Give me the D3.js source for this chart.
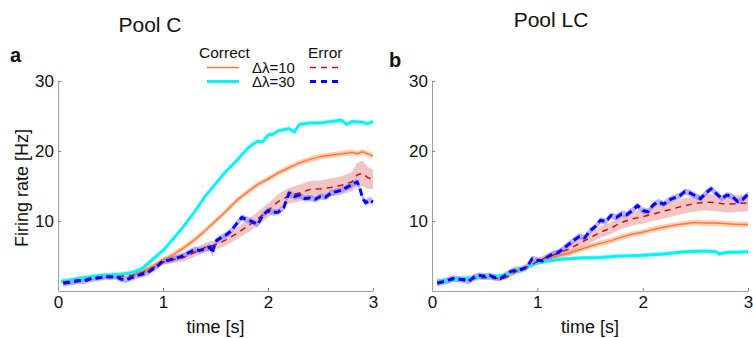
<!DOCTYPE html>
<html>
<head>
<meta charset="utf-8">
<script src="https://cdn.jsdelivr.net/npm/d3@7"></script>
<style>
  body { margin: 0; background: #fff; }
  text { font-family: "Liberation Sans", Arial, Helvetica, sans-serif; fill: #111; }
</style>
</head>
<body>
<svg id="chart" width="753" height="338"></svg>
<script>
// tick labels
const xTicks = [0, 1, 2, 3];
const yTicks = [10, 20, 30];
const panelTitles = ['Pool C', 'Pool LC'];
const panelLetters = ['a', 'b'];

// Pool C: [time s, rate Hz]
const cCorrect10 = [[0.03,1.4],[0.1,1.5],[0.2,1.7],[0.3,1.9],[0.4,2.1],[0.5,2.2],[0.6,2.3],[0.7,2.5],[0.8,2.8],[0.9,3.5],
  [1.0,4.4],[1.1,5.2],[1.2,6.2],[1.3,7.3],[1.4,8.6],[1.5,10.0],[1.6,11.4],[1.7,12.9],[1.8,14.1],[1.9,15.2],
  [2.0,16.0],[2.1,16.9],[2.2,17.6],[2.3,18.3],[2.4,18.8],[2.5,19.2],[2.6,19.4],[2.7,19.6],[2.8,19.8],[2.85,19.6],[2.9,19.9],[3.0,19.3]];
const cCorrect30 = [[0.03,1.4],[0.1,1.5],[0.2,1.8],[0.3,2.0],[0.4,2.2],[0.5,2.3],[0.6,2.4],[0.7,2.6],[0.8,3.2],[0.9,4.5],
  [1.0,5.8],[1.1,7.5],[1.2,9.3],[1.3,11.3],[1.4,13.5],[1.5,15.3],[1.6,17.1],[1.7,18.6],[1.8,20.3],[1.85,20.9],[1.9,21.4],
  [1.95,21.3],[2.0,22.3],[2.05,22.4],[2.1,22.9],[2.2,23.2],[2.25,22.7],[2.3,23.8],[2.4,24.0],[2.5,24.0],[2.6,24.2],
  [2.7,24.4],[2.75,23.8],[2.8,24.2],[2.9,24.1],[2.95,23.9],[3.0,24.2]];
const cError10 = [[0.05,1.3],[0.1,1.4],[0.2,1.6],[0.3,1.8],[0.4,2.0],[0.5,2.1],[0.6,2.1],[0.7,2.2],[0.8,2.6],[0.9,3.3],
  [1.0,4.1],[1.1,4.5],[1.2,4.8],[1.3,5.5],[1.4,6.2],[1.5,6.6],[1.6,7.3],[1.7,8.2],[1.8,9.2],[1.9,10.3],
  [2.0,11.5],[2.1,12.8],[2.2,13.6],[2.3,14.0],[2.4,14.5],[2.5,14.6],[2.6,14.8],[2.7,15.1],[2.8,15.6],[2.85,16.6],
  [2.9,16.8],[2.95,16.2],[3.0,15.9]];
const cError10Sem = [0.3,0.3,0.3,0.3,0.3,0.3,0.3,0.3,0.35,0.4,
  0.4,0.5,0.55,0.6,0.65,0.7,0.75,0.8,0.9,1.0,
  1.0,1.1,1.1,1.2,1.2,1.2,1.3,1.3,1.4,1.7,
  1.8,1.6,1.4];
const cError30 = [[0.05,1.1],[0.1,1.2],[0.15,1.3],[0.2,1.5],[0.25,1.4],[0.3,1.7],[0.35,1.8],[0.4,1.9],[0.45,2.1],[0.5,2.0],
  [0.55,2.1],[0.6,1.7],[0.65,1.6],[0.7,1.9],[0.75,2.2],[0.8,2.4],[0.85,2.6],[0.9,3.1],[0.95,3.6],[1.0,4.3],
  [1.05,4.4],[1.1,4.6],[1.15,4.8],[1.2,5.1],[1.25,5.5],[1.3,5.9],[1.35,5.8],[1.4,6.0],[1.45,6.3],[1.47,5.4],
  [1.5,7.1],[1.55,7.6],[1.6,8.0],[1.65,8.6],[1.7,9.6],[1.75,10.5],[1.8,10.2],[1.85,9.9],[1.9,9.5],[1.95,10.8],
  [2.0,11.5],[2.05,11.2],[2.1,11.3],[2.15,11.9],[2.2,14.0],[2.25,13.5],[2.3,13.7],[2.35,13.2],[2.4,13.3],[2.45,13.1],
  [2.5,13.5],[2.55,13.4],[2.6,14.0],[2.65,14.2],[2.7,14.4],[2.75,14.8],[2.8,15.2],[2.85,15.6],[2.88,14.4],[2.9,13.3],
  [2.93,12.6],[2.97,13.0],[3.0,12.7]];

// Pool LC
const lcCorrect10 = [[0.05,1.4],[0.1,1.4],[0.2,1.6],[0.3,1.8],[0.4,1.9],[0.5,2.0],[0.6,2.0],[0.7,2.1],[0.8,2.8],[0.9,3.4],
  [1.0,4.1],[1.1,4.5],[1.2,5.0],[1.3,5.4],[1.4,5.9],[1.5,6.4],[1.6,6.8],[1.7,7.2],[1.8,7.7],[1.9,8.1],
  [2.0,8.4],[2.1,8.8],[2.2,9.1],[2.3,9.4],[2.4,9.6],[2.5,9.8],[2.6,9.7],[2.7,9.7],[2.8,9.6],[2.9,9.5],[3.0,9.5]];
const lcCorrect30 = [[0.05,1.5],[0.1,1.4],[0.2,1.6],[0.3,1.8],[0.4,1.9],[0.5,2.0],[0.6,2.1],[0.7,2.3],[0.8,2.8],[0.9,3.4],
  [1.0,4.0],[1.1,4.3],[1.2,4.5],[1.4,4.7],[1.6,4.8],[1.8,5.0],[2.0,5.1],[2.2,5.3],[2.4,5.6],[2.6,5.7],
  [2.7,5.6],[2.72,5.3],[2.8,5.5],[3.0,5.6]];
const lcError10 = [[0.05,1.3],[0.1,1.4],[0.2,1.6],[0.3,1.7],[0.4,1.8],[0.5,1.9],[0.6,1.8],[0.7,1.9],[0.8,2.8],[0.9,3.4],
  [1.0,4.2],[1.1,4.9],[1.2,5.4],[1.3,6.0],[1.4,6.8],[1.5,7.6],[1.6,8.4],[1.7,9.0],[1.8,9.8],[1.9,10.3],
  [2.0,10.6],[2.1,11.0],[2.2,11.4],[2.3,11.8],[2.4,12.2],[2.5,12.5],[2.6,12.7],[2.7,12.6],[2.8,12.4],[2.9,12.5],[3.0,12.6]];
const lcError10Sem = [0.3,0.3,0.3,0.3,0.3,0.3,0.3,0.3,0.35,0.4,
  0.45,0.5,0.55,0.6,0.7,0.75,0.8,0.85,0.9,0.95,
  1.0,1.0,1.05,1.1,1.1,1.15,1.2,1.2,1.2,1.2,1.2];
const lcError30 = [[0.05,1.1],[0.1,1.3],[0.15,1.5],[0.2,1.8],[0.25,1.7],[0.3,1.6],[0.35,1.4],[0.4,2.0],[0.45,2.2],[0.5,2.1],
  [0.55,2.2],[0.6,1.9],[0.65,1.8],[0.7,2.3],[0.75,2.8],[0.8,3.0],[0.85,3.1],[0.9,3.4],[0.95,4.6],[1.0,4.4],
  [1.05,4.3],[1.1,4.9],[1.15,5.3],[1.2,5.5],[1.25,6.1],[1.3,6.7],[1.35,7.3],[1.4,7.8],[1.45,7.6],[1.5,8.6],
  [1.55,9.2],[1.6,10.1],[1.65,9.9],[1.7,10.8],[1.75,10.5],[1.8,11.0],[1.85,10.9],[1.9,11.5],[1.95,12.2],[2.0,11.5],
  [2.05,11.3],[2.1,12.3],[2.15,12.7],[2.2,12.4],[2.25,13.0],[2.3,13.3],[2.35,13.6],[2.4,14.2],[2.45,14.0],[2.5,13.6],
  [2.55,13.2],[2.6,14.0],[2.65,14.6],[2.7,13.9],[2.75,13.2],[2.8,13.7],[2.85,13.5],[2.9,12.8],[2.95,13.1],[3.0,13.8]];

// constant band half-widths (Hz) read from the shaded areas
const semCorrect10 = 0.4, semCorrect30 = 0.3, semError30 = 0.45;

const svg = d3.select('#chart');
const plotTop = 81, plotBottom = 291;

const styles = {
  c10: { color: '#ff7a3c', band: '#ffcdb0', width: 1.5, dash: null },
  c30: { color: '#00f5f5', band: '#a8ffff', width: 3, dash: null },
  e10: { color: '#cc1010', band: 'rgba(230,140,140,0.5)', width: 1.5, dash: '6,5' },
  e30: { color: '#0000ff', band: 'rgba(120,120,255,0.55)', width: 3, dash: '7,4' }
};

const panels = [
  { left: 58, right: 373, titleX: 150, titleY: 32, letterX: 10, letterY: 62,
    series: { c10: [cCorrect10, semCorrect10], c30: [cCorrect30, semCorrect30], e10: [cError10, cError10Sem], e30: [cError30, semError30] } },
  { left: 432, right: 748, titleX: 551, titleY: 27, letterX: 389, letterY: 67,
    series: { c10: [lcCorrect10, semCorrect10], c30: [lcCorrect30, semCorrect30], e10: [lcError10, lcError10Sem], e30: [lcError30, semError30] } }
];

panels.forEach((p, pi) => {
  const x = d3.scaleLinear().domain([0, 3]).range([p.left, p.right]);
  const y = d3.scaleLinear().domain([0, 30]).range([plotBottom, plotTop]);
  const semAt = (sem, i) => Array.isArray(sem) ? sem[i] : sem;

  const g = svg.append('g');
  const order = ['c10', 'e10', 'c30', 'e30'];

  // shaded bands
  order.forEach(k => {
    const [data, sem] = p.series[k];
    const area = d3.area()
      .x(d => x(d[0]))
      .y0((d, i) => y(d[1] - semAt(sem, i)))
      .y1((d, i) => y(d[1] + semAt(sem, i)));
    g.append('path').datum(data)
      .attr('fill', styles[k].band)
      .attr('d', area);
  });

  // mean lines
  const line = d3.line().x(d => x(d[0])).y(d => y(d[1]));
  ['c10', 'c30', 'e10', 'e30'].forEach(k => {
    const s = styles[k];
    g.append('path').datum(p.series[k][0])
      .attr('fill', 'none')
      .attr('stroke', s.color)
      .attr('stroke-width', s.width)
      .attr('stroke-dasharray', s.dash)
      .attr('stroke-linejoin', 'round')
      .attr('d', line);
  });

  // axes
  const xAxis = svg.append('g')
    .attr('transform', `translate(0,${plotBottom})`)
    .call(d3.axisBottom(x).tickValues(xTicks).tickFormat(d3.format('d'))
      .tickSizeInner(-3).tickSizeOuter(0).tickPadding(5));
  const yAxis = svg.append('g')
    .attr('transform', `translate(${p.left},0)`)
    .call(d3.axisLeft(y).tickValues(yTicks).tickFormat(d3.format('d'))
      .tickSizeInner(-3).tickSizeOuter(0).tickPadding(4));
  [xAxis, yAxis].forEach(a => {
    a.select('.domain').attr('stroke', '#a0a0a0');
    a.selectAll('.tick line').attr('stroke', '#808080');
    a.selectAll('.tick text').attr('font-size', 17).attr('fill', '#111')
      .style('font-family', '"Liberation Sans", Arial, sans-serif');
  });

  svg.append('text')
    .attr('x', (p.left + p.right) / 2).attr('y', 333)
    .attr('text-anchor', 'middle').attr('font-size', 18)
    .text('time [s]');

  svg.append('text')
    .attr('x', p.titleX).attr('y', p.titleY)
    .attr('text-anchor', 'middle').attr('font-size', 21)
    .text(panelTitles[pi]);

  svg.append('text')
    .attr('x', p.letterX).attr('y', p.letterY)
    .attr('font-size', 20).attr('font-weight', 'bold')
    .text(panelLetters[pi]);
});

svg.append('text')
  .attr('transform', 'translate(28,188) rotate(-90)')
  .attr('text-anchor', 'middle').attr('font-size', 18)
  .text('Firing rate [Hz]');

// legend
const legend = svg.append('g');
legend.append('text').attr('x', 199).attr('y', 58).attr('font-size', 15.5).text('Correct');
legend.append('text').attr('x', 308).attr('y', 58).attr('font-size', 15.5).text('Error');
const legendRows = [
  { label: 'Δλ=10', correct: 'c10', error: 'e10', y: 67.5 },
  { label: 'Δλ=30', correct: 'c30', error: 'e30', y: 81.5 }
];
legendRows.forEach(r => {
  const c = styles[r.correct], e = styles[r.error];
  legend.append('line').attr('x1', 207).attr('x2', 239).attr('y1', r.y).attr('y2', r.y)
    .attr('stroke', c.color).attr('stroke-width', c.width);
  legend.append('line').attr('x1', 310).attr('x2', 342).attr('y1', r.y).attr('y2', r.y)
    .attr('stroke', e.color).attr('stroke-width', e.width).attr('stroke-dasharray', '6,5');
  legend.append('text').attr('x', 252).attr('y', r.y + 5.5).attr('font-size', 15).text(r.label);
});
</script>
</body>
</html>
